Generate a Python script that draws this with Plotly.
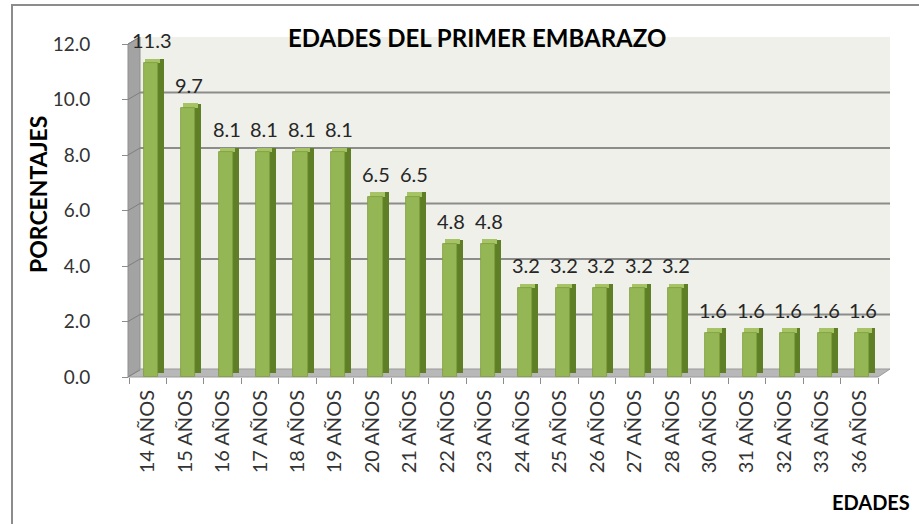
import plotly.graph_objects as go

categories = ["14 AÑOS", "15 AÑOS", "16 AÑOS", "17 AÑOS", "18 AÑOS", "19 AÑOS",
              "20 AÑOS", "21 AÑOS", "22 AÑOS", "23 AÑOS", "24 AÑOS", "25 AÑOS",
              "26 AÑOS", "27 AÑOS", "28 AÑOS", "30 AÑOS", "31 AÑOS", "32 AÑOS",
              "33 AÑOS", "36 AÑOS"]
values = [11.3, 9.7, 8.1, 8.1, 8.1, 8.1, 6.5, 6.5, 4.8, 4.8,
          3.2, 3.2, 3.2, 3.2, 3.2, 1.6, 1.6, 1.6, 1.6, 1.6]
y_ticks = [0, 2, 4, 6, 8, 10, 12]
title_text = "EDADES DEL PRIMER EMBARAZO"
y_title = "PORCENTAJES"
x_title = "EDADES"

W, H = 919, 524
L, R, T, B = 129, 29, 38, 147
PW, PH = W - L - R, H - T - B
Y0 = H - B  # pixel row of y=0


def X(px):
    return (px - L) / PW


def Y(py):
    return (Y0 - py) / PH


FONT = "Lato"
DEPTH = 7 / 27.75  # 3D depth offset in y units

fig = go.Figure()

# side (depth) of bars
fig.add_trace(go.Bar(x=categories, y=values, base=0.15, width=0.46, offset=-0.03,
                     marker=dict(color="#5f7f26", line=dict(width=0)),
                     hoverinfo="skip", showlegend=False))
# top face
fig.add_trace(go.Bar(x=categories, y=[0.16] * len(values), base=values, width=0.4, offset=-0.07,
                     marker=dict(color="#a6c466", line=dict(width=0)),
                     hoverinfo="skip", showlegend=False))
# front face
fig.add_trace(go.Bar(x=categories, y=values, width=0.38, offset=-0.11,
                     marker=dict(color="#95b654", line=dict(color="#7d9c3c", width=0.8)),
                     showlegend=False))

shapes = []
# back wall
shapes.append(dict(type="rect", xref="paper", yref="paper", x0=X(140), x1=X(890),
                   y0=Y(369), y1=Y(37), fillcolor="#eef0e9", line=dict(width=0), layer="below"))
# left wall
shapes.append(dict(type="path", xref="paper", yref="paper",
                   path=f"M {X(128)},{Y(377)} L {X(128)},{Y(44)} L {X(140)},{Y(37)} L {X(140)},{Y(369)} Z",
                   fillcolor="#a3a3a3", line=dict(color="#8f8f8f", width=1), layer="below"))
# floor
shapes.append(dict(type="path", xref="paper", yref="paper",
                   path=f"M {X(128)},{Y(377)} L {X(878)},{Y(377)} L {X(890)},{Y(369)} L {X(140)},{Y(369)} Z",
                   fillcolor="#b8b8b8", line=dict(color="#9a9a9a", width=1), layer="below"))
# gridlines on back wall + diagonals on left wall
for t in y_ticks[1:]:
    shapes.append(dict(type="line", xref="paper", yref="y", x0=X(140), x1=X(890),
                       y0=t + DEPTH, y1=t + DEPTH, line=dict(color="#8c8c8c", width=2), layer="below"))
for t in y_ticks:
    shapes.append(dict(type="line", xref="paper", yref="y", x0=X(128), x1=X(140),
                       y0=t, y1=t + DEPTH, line=dict(color="#7f7f7f", width=1), layer="below"))
# chart border (top & left visible)
shapes.append(dict(type="rect", xref="paper", yref="paper", x0=X(12), x1=X(960),
                   y0=Y(560), y1=Y(5), line=dict(color="#8c8c8c", width=2), layer="below"))

annotations = []
for c, v in zip(categories, values):
    annotations.append(dict(x=c, y=v, text=f"{v:.1f}", showarrow=False, yshift=23, xshift=4,
                            font=dict(family=FONT, size=20, color="#262626")))
annotations.append(dict(x=X(477), y=Y(37), xref="paper", yref="paper", text=title_text,
                        showarrow=False, xanchor="center", yanchor="middle",
                        font=dict(family=FONT, size=24, color="black", weight="bold")))
annotations.append(dict(x=X(38), y=Y(195), xref="paper", yref="paper", text=y_title,
                        showarrow=False, textangle=-90, xanchor="center", yanchor="middle",
                        font=dict(family=FONT, size=23, color="black", weight="bold")))
annotations.append(dict(x=X(912), y=Y(502), xref="paper", yref="paper", text=x_title,
                        showarrow=False, xanchor="right", yanchor="middle",
                        font=dict(family=FONT, size=20, color="black", weight="bold")))

fig.update_layout(
    width=W, height=H,
    margin=dict(l=L, r=R, t=T, b=B, pad=0),
    paper_bgcolor="white", plot_bgcolor="white",
    barmode="overlay", bargap=0,
    shapes=shapes, annotations=annotations,
    xaxis=dict(range=[-0.5, 19.82], type="category", showgrid=False, zeroline=False,
               showline=False, ticks="outside", tickson="boundaries", ticklen=6,
               tickcolor="#8c8c8c", tickangle=-90, ticklabelstandoff=8,
               tickfont=dict(family=FONT, size=20, color="#333333")),
    yaxis=dict(range=[0, PH / 27.75], tickvals=y_ticks, tickformat=".1f", showgrid=False,
               zeroline=False, showline=False, ticks="outside", ticklen=6,
               tickcolor="#8c8c8c", ticklabelstandoff=28,
               tickfont=dict(family=FONT, size=19, color="#333333")),
)

fig.write_html("out.html", config={"displayModeBar": False},
               post_script="document.body.style.margin='0px';document.body.style.overflow='hidden';")
